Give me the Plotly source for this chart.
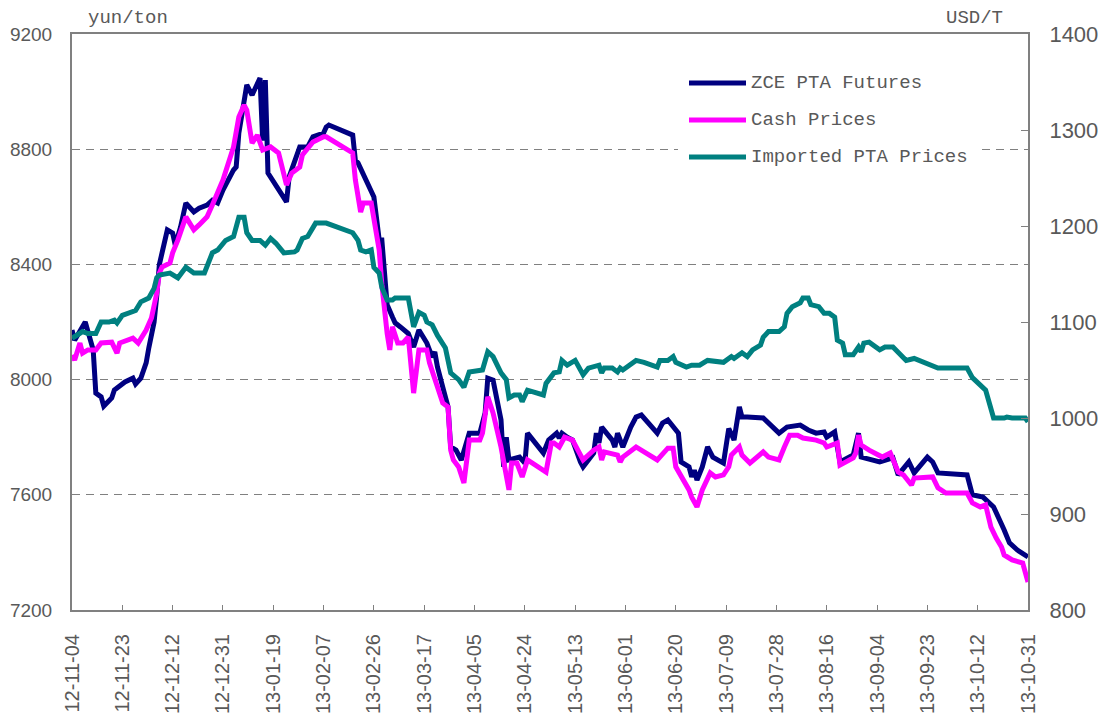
import pandas as pd
import plotly.graph_objects as go

START = "2012-11-04"

# ZCE PTA Futures (yuan/ton) : day offset from START, value
zce_day = [0, 1, 5, 8, 9, 11, 12, 15, 16, 18, 20, 23, 24, 26, 28, 29, 31, 32, 33, 34, 36, 38, 39, 41, 43, 46, 48, 51, 53, 55, 57,
           61, 62, 63, 65, 66, 68, 70, 71, 72, 73, 74, 78, 80, 81, 82, 83, 86, 89, 91, 95, 96, 97, 106, 107, 108, 114, 115, 116,
           117, 119, 121, 122, 124, 127, 129, 131, 134, 136, 137, 138, 140, 142, 143, 145, 147, 150, 154, 156, 157, 159, 162,
           163, 164, 165, 169, 171, 172, 178, 180, 183, 184, 185, 187, 189, 192, 193, 197, 198, 199, 200, 204, 205, 206, 208,
           211, 213, 215, 221, 223, 225, 229, 230, 233, 234, 235, 236, 238, 240, 242, 244, 246, 248, 250, 252, 253, 255, 261,
           267, 270, 275, 278, 281, 284, 285, 288, 290, 295, 297, 298, 305, 310, 312, 316, 318, 323, 325, 327, 338, 340, 344,
           348, 352, 354, 357, 361]
zce_val = [8172, 8137, 8200, 8103, 7953, 7940, 7908, 7936, 7964, 7978, 7992, 8005, 7985, 8005, 8058, 8110, 8200, 8290, 8400,
           8440, 8520, 8509, 8467, 8530, 8613, 8582, 8595, 8606, 8623, 8613, 8658, 8728, 8738, 8856, 8971, 9023, 8988, 9023,
           9047, 8830, 9040, 8717, 8658, 8634, 8617, 8704, 8728, 8808, 8808, 8843, 8856, 8877, 8884, 8849, 8762, 8752, 8634,
           8560, 8485, 8485, 8260, 8217, 8197, 8183, 8160, 8113, 8172, 8127, 8078, 8096, 8044, 7974, 7905, 7766, 7755, 7721,
           7814, 7814, 7884, 8005, 7998, 7860, 7697, 7800, 7721, 7731, 7710, 7814, 7745, 7790, 7814, 7797, 7814, 7800, 7790,
           7714, 7697, 7745, 7814, 7780, 7835, 7790, 7766, 7814, 7766, 7835, 7870, 7877, 7814, 7849, 7860, 7814, 7714, 7697,
           7662, 7686, 7651, 7697, 7766, 7731, 7721, 7710, 7830, 7790, 7905, 7870, 7870, 7867, 7814, 7835, 7842, 7825, 7814,
           7818, 7800, 7818, 7714, 7738, 7814, 7731, 7714, 7728, 7669, 7714, 7676, 7731, 7714, 7676, 7669, 7600, 7592, 7558,
           7478, 7433, 7408, 7384]

# Cash Prices (yuan/ton)
cash_day = [0, 1, 3, 4, 6, 9, 11, 15, 17, 18, 23, 25, 28, 30, 32, 33, 34, 37, 38, 40, 43, 45, 46, 48, 51, 53, 57, 61, 63, 65,
            66, 68, 70, 72, 75, 78, 81, 83, 86, 87, 91, 95, 96, 106, 107, 109, 110, 113, 116, 117, 118, 119, 120, 121, 123,
            125, 127, 129, 131, 134, 135, 137, 139, 140, 142, 143, 144, 146, 148, 150, 154, 155, 157, 159, 162, 163, 165,
            166, 168, 170, 172, 179, 181, 182, 184, 186, 189, 193, 197, 199, 200, 201, 206, 207, 208, 213, 221, 225, 227,
            228, 233, 234, 236, 238, 241, 243, 246, 248, 249, 252, 253, 256, 261, 263, 267, 269, 271, 274, 276, 281, 284,
            285, 289, 290, 295, 296, 297, 298, 301, 306, 309, 312, 314, 317, 318, 325, 327, 330, 338, 340, 343, 345, 347,
            349, 351, 352, 355, 359, 361]
cash_val = [8085, 8068, 8127, 8092, 8103, 8103, 8127, 8130, 8092, 8127, 8144, 8127, 8172, 8214, 8300, 8370, 8391, 8405, 8440,
            8485, 8565, 8530, 8520, 8537, 8565, 8606, 8693, 8808, 8912, 8953, 8936, 8821, 8849, 8797, 8808, 8787, 8676, 8717,
            8738, 8780, 8825, 8843, 8843, 8787, 8693, 8582, 8613, 8613, 8450, 8330, 8220, 8160, 8103, 8183, 8127, 8127, 8148,
            7953, 8103, 8103, 8058, 7998, 7940, 7919, 7905, 7755, 7721, 7697, 7641, 7790, 7790, 7814, 7940, 7884, 7766, 7710,
            7617, 7710, 7710, 7662, 7721, 7679, 7780, 7780, 7766, 7800, 7790, 7721, 7755, 7766, 7721, 7749, 7738, 7714, 7731,
            7766, 7721, 7762, 7762, 7697, 7617, 7592, 7558, 7617, 7676, 7662, 7669, 7697, 7738, 7766, 7738, 7710, 7749, 7731,
            7721, 7766, 7807, 7807, 7797, 7790, 7780, 7766, 7780, 7703, 7728, 7745, 7807, 7773, 7755, 7731, 7745, 7679, 7669,
            7634, 7658, 7662, 7624, 7606, 7606, 7572, 7558, 7565, 7488, 7450, 7419, 7391, 7374, 7363, 7297]

# Imported PTA Prices (USD/T)
imp_day = [0, 2, 4, 6, 9, 11, 14, 16, 17, 19, 21, 24, 26, 29, 31, 32, 33, 37, 40, 43, 46, 50, 53, 55, 58, 61, 63, 65, 66, 68,
           71, 73, 75, 77, 80, 84, 85, 87, 89, 92, 96, 100, 106, 108, 109, 111, 113, 114, 116, 117, 119, 121, 122, 127, 129,
           131, 133, 134, 136, 138, 141, 143, 145, 146, 148, 150, 155, 157, 159, 162, 164, 165, 167, 169, 170, 172, 178, 179,
           182, 184, 185, 187, 190, 193, 195, 199, 200, 201, 204, 206, 207, 208, 213, 216, 221, 222, 225, 227, 228, 232, 234,
           237, 240, 244, 246, 249, 250, 253, 255, 257, 260, 261, 263, 267, 269, 270, 272, 275, 276, 278, 279, 282, 284, 286,
           288, 289, 291, 292, 295, 297, 298, 299, 301, 305, 307, 310, 313, 315, 318, 324, 327, 338, 340, 345, 347, 348, 352,
           353, 355, 360, 361]
imp_val = [1083, 1086, 1090, 1088, 1088, 1100, 1100, 1102, 1099, 1107, 1109, 1112, 1121, 1125, 1135, 1146, 1149, 1151, 1146,
           1157, 1151, 1151, 1172, 1175, 1185, 1189, 1209, 1209, 1193, 1185, 1185, 1180, 1187, 1182, 1172, 1173, 1175, 1187,
           1189, 1203, 1203, 1199, 1193, 1185, 1175, 1173, 1175, 1157, 1151, 1136, 1123, 1123, 1125, 1125, 1095, 1110, 1107,
           1100, 1097, 1086, 1073, 1047, 1043, 1040, 1032, 1048, 1050, 1069, 1064, 1047, 1040, 1021, 1024, 1024, 1017, 1029,
           1024, 1036, 1047, 1048, 1060, 1055, 1060, 1045, 1052, 1055, 1047, 1052, 1052, 1048, 1052, 1050, 1060, 1058, 1053,
           1060, 1060, 1064, 1058, 1053, 1055, 1055, 1060, 1058, 1058, 1064, 1062, 1068, 1064, 1071, 1076, 1084, 1090, 1090,
           1095, 1109, 1116, 1120, 1125, 1125, 1118, 1116, 1109, 1109, 1105, 1081, 1078, 1066, 1066, 1074, 1069, 1078, 1079,
           1071, 1074, 1074, 1066, 1060, 1062, 1055, 1052, 1052, 1042, 1029, 1010, 1000, 1000, 1001, 1000, 1000, 996]

series_names = ["ZCE PTA Futures", "Cash Prices", "Imported PTA Prices"]
series_colors = ["#000080", "#FF00FF", "#008080"]


def to_dates(days):
    return pd.Timestamp(START) + pd.to_timedelta(days, unit="D")


fig = go.Figure()
fig.add_trace(go.Scatter(x=to_dates(zce_day), y=zce_val, name=series_names[0], mode="lines",
                         line=dict(color=series_colors[0], width=5), showlegend=False))
fig.add_trace(go.Scatter(x=to_dates(cash_day), y=cash_val, name=series_names[1], mode="lines",
                         line=dict(color=series_colors[1], width=5), showlegend=False))
fig.add_trace(go.Scatter(x=to_dates(imp_day), y=imp_val, name=series_names[2], mode="lines", yaxis="y2",
                         line=dict(color=series_colors[2], width=5), showlegend=False))

AX = "#808080"
TXT = "#595959"
MONO = "Liberation Mono, Courier New, monospace"

# page body has an 8px margin; compensate so the plot area sits at x 72..1028, y 34..610 of the window
fig.update_layout(
    width=1103, height=710,
    margin=dict(l=64, r=83, t=26, b=108, autoexpand=False),
    paper_bgcolor="white", plot_bgcolor="white",
    font=dict(family="Liberation Sans, Arial, sans-serif", color=TXT),
    xaxis=dict(
        type="date", range=[START, "2013-10-31"],
        tick0=START, dtick=19 * 86400000, tickformat="%y-%m-%d",
        tickangle=-90, tickfont=dict(size=20, color=TXT),
        ticks="inside", ticklen=5, tickcolor=AX, tickwidth=1,
        showline=True, linecolor=AX, linewidth=2, mirror=True,
        showgrid=False, zeroline=False, ticklabelstandoff=14, automargin=False,
    ),
    yaxis=dict(
        range=[7200, 9200], dtick=400, tick0=7200,
        tickfont=dict(size=19, color=TXT),
        showline=True, linecolor=AX, linewidth=2,
        showgrid=True, gridcolor=AX, gridwidth=1, griddash="8px,6px",
        zeroline=False, ticks="", ticklabelstandoff=14, automargin=False,
    ),
    yaxis2=dict(
        range=[800, 1400], dtick=100, tick0=800, overlaying="y", side="right",
        tickfont=dict(size=22, color=TXT),
        showline=True, linecolor=AX, linewidth=2,
        showgrid=False, zeroline=False,
        ticks="inside", ticklen=7, tickcolor=AX, tickwidth=1, ticklabelstandoff=15, automargin=False,
    ),
)


# Manual legend, positioned in plot-area paper coordinates
def px_x(p):
    return (p - 72) / 956.0


def px_y(p):
    return (610 - p) / 576.0


fig.add_shape(type="rect", xref="paper", yref="paper", x0=px_x(678), x1=px_x(978), y0=px_y(175), y1=px_y(65),
              fillcolor="white", line=dict(width=0), layer="above")
legend_y = [83, 120, 157]
for name, col, ly in zip(series_names, series_colors, legend_y):
    fig.add_shape(type="line", xref="paper", yref="paper", x0=px_x(689), x1=px_x(746), y0=px_y(ly), y1=px_y(ly),
                  line=dict(color=col, width=5), layer="above")
    fig.add_annotation(xref="paper", yref="paper", x=px_x(749), y=px_y(ly), text=name, showarrow=False,
                       xanchor="left", yanchor="middle", font=dict(family=MONO, size=19, color=TXT))

fig.add_annotation(xref="paper", yref="paper", x=px_x(86), y=px_y(18), text="yun/ton", showarrow=False,
                   xanchor="left", yanchor="middle", font=dict(family=MONO, size=19, color=TXT))
fig.add_annotation(xref="paper", yref="paper", x=px_x(1005), y=px_y(18), text="USD/T", showarrow=False,
                   xanchor="right", yanchor="middle", font=dict(family=MONO, size=19, color=TXT))

fig.write_html("out.html")
